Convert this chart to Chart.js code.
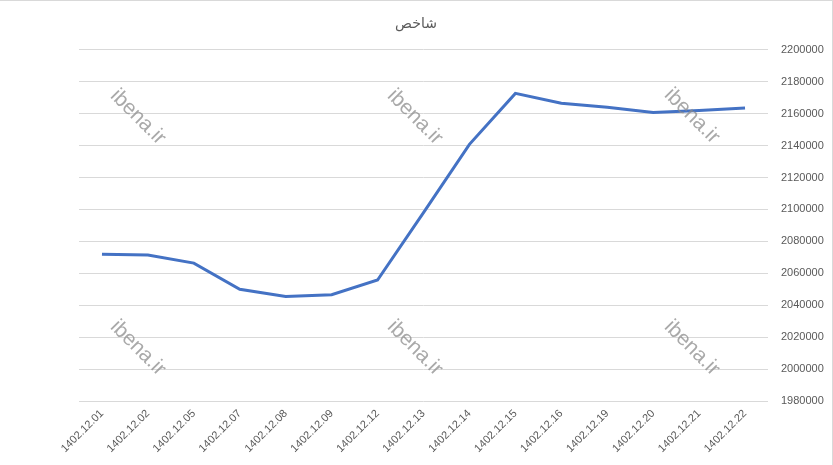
<!DOCTYPE html>
<html>
<head>
<meta charset="utf-8">
<script src="https://cdn.jsdelivr.net/npm/chart.js@4.4.1/dist/chart.umd.min.js"></script>
<style>
  html, body { margin: 0; padding: 0; background: #fff; }
  #wrap { position: relative; width: 833px; height: 465px; box-sizing: border-box;
          border-top: 1px solid #d9d9d9; border-right: 1px solid #d9d9d9; }
  canvas { display: block; }
</style>
</head>
<body>
<div id="wrap"><canvas id="chart" width="832" height="464"></canvas></div>
<script>
// Data
const dates = ['1402.12.01', '1402.12.02', '1402.12.05', '1402.12.07', '1402.12.08',
    '1402.12.09', '1402.12.12', '1402.12.13', '1402.12.14', '1402.12.15',
    '1402.12.16', '1402.12.19', '1402.12.20', '1402.12.21', '1402.12.22'];
const indexValues = [2072000, 2071400, 2066400, 2050000, 2045400,
    2046600, 2055800, 2098000, 2140800, 2172700,
    2166500, 2164000, 2160800, 2162000, 2163500];
const yMin = 1980000;
const yMax = 2200000;
const yStep = 20000;
const chartTitle = 'شاخص';
const watermark = 'ibena.ir';

// watermark text, drawn over the line like in the original
const watermarkPlugin = {
    id: 'watermark',
    afterDatasetsDraw(chart) {
        const ctx = chart.ctx;
        const spots = [[138, 116], [415, 116], [692, 115], [138, 347], [415, 347], [692, 347]];
        ctx.save();
        ctx.font = '21px "Liberation Sans", Arial, sans-serif';
        ctx.fillStyle = 'rgba(140,140,140,0.75)';
        ctx.textAlign = 'center';
        ctx.textBaseline = 'middle';
        spots.forEach(([x, y]) => {
            ctx.save();
            ctx.translate(x, y);
            ctx.rotate(Math.PI / 4);
            ctx.fillText(watermark, 0, 0);
            ctx.restore();
        });
        ctx.restore();
    }
};

new Chart(document.getElementById('chart').getContext('2d'), {
    type: 'line',
    data: {
        labels: dates,
        datasets: [{
            data: indexValues,
            borderColor: '#4472C4',
            borderWidth: 3,
            pointRadius: 0,
            tension: 0,
            fill: false
        }]
    },
    options: {
        responsive: false,
        animation: false,
        layout: { padding: 0 },
        plugins: {
            legend: { display: false },
            tooltip: { enabled: false },
            title: {
                display: true,
                text: chartTitle,
                color: '#595959',
                font: { family: '"DejaVu Sans", sans-serif', size: 14, weight: 'normal' },
                padding: { top: 15, bottom: 17 }
            }
        },
        scales: {
            x: {
                offset: true,
                grid: { display: false, drawTicks: false },
                border: { display: false },
                ticks: {
                    color: '#595959',
                    font: { family: '"Liberation Sans", Arial, sans-serif', size: 11 },
                    minRotation: 45,
                    maxRotation: 45,
                    autoSkip: false,
                    padding: 6
                },
                afterFit(scale) { scale.height = 64; }
            },
            // empty left axis, only to keep the plot away from the left edge
            spacer: {
                axis: 'y',
                position: 'left',
                min: yMin,
                max: yMax,
                grid: { display: false, drawTicks: false },
                border: { display: false },
                ticks: { display: false },
                afterFit(scale) { scale.width = 79; }
            },
            y: {
                position: 'right',
                min: yMin,
                max: yMax,
                grid: { color: '#d9d9d9', drawTicks: false },
                border: { display: false },
                ticks: {
                    stepSize: yStep,
                    color: '#595959',
                    font: { family: '"Liberation Sans", Arial, sans-serif', size: 11 },
                    padding: 13,
                    callback: v => String(v)
                },
                afterFit(scale) { scale.width = 64; }
            }
        }
    },
    plugins: [watermarkPlugin]
});
</script>
</body>
</html>
